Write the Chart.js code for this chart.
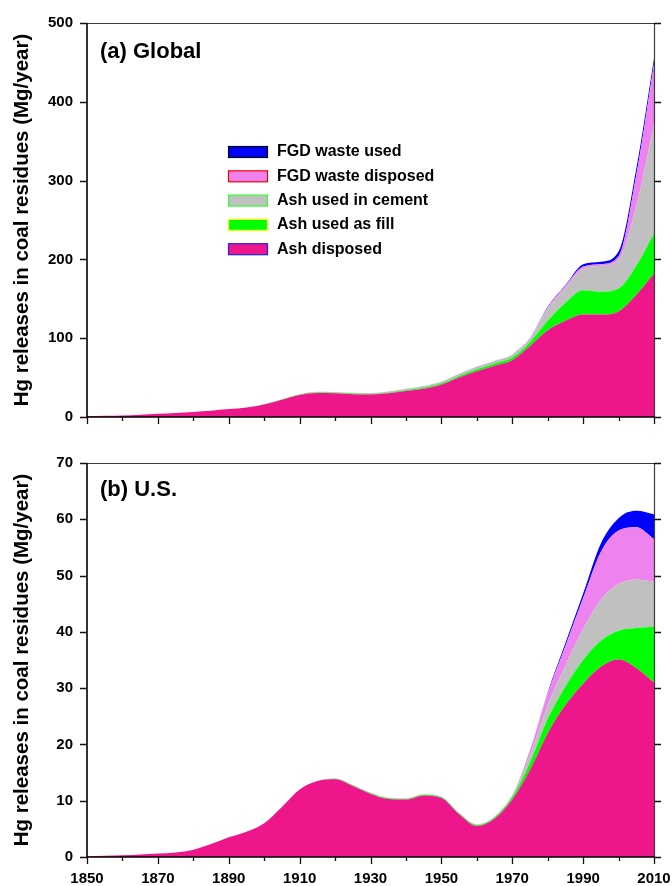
<!DOCTYPE html>
<html>
<head>
<meta charset="utf-8">
<title>Hg releases in coal residues</title>
<script src="https://cdn.jsdelivr.net/npm/chart.js@4/dist/chart.umd.min.js"></script>
<style>
    body { margin: 0; background: #fff; }
    canvas { position: absolute; left: 0; }
    #chart_global { top: 0; }
    #chart_us { top: 440px; }
</style>
</head>
<body>
<canvas id="chart_global" width="672" height="440"></canvas>
<canvas id="chart_us" width="672" height="446"></canvas>
<script>
// years sampled every 5 years
var aYears = [1850, 1855, 1860, 1865, 1870, 1875, 1880, 1885, 1890, 1895, 1900,
    1905, 1910, 1915, 1920, 1925, 1930, 1935, 1940, 1945, 1950,
    1955, 1960, 1965, 1970, 1975, 1980, 1985, 1990, 1995, 2000, 2005, 2010];

var aSeriesNames = ['Ash disposed', 'Ash used as fill', 'Ash used in cement', 'FGD waste disposed', 'FGD waste used'];

// (a) Global, Mg/year
var aGlobalAshDisposed = [1, 1.5, 2, 3, 4, 5, 6.5, 8, 10, 12, 16,
    22, 28, 30.5, 30, 29, 28.5, 30, 33, 36, 41,
    50, 58, 65, 72, 90, 110, 122, 130, 130, 134, 155, 182];
var aGlobalAshFill = [0, 0, 0, 0, 0, 0, 0, 0, 0, 0, 0.2,
    0.3, 0.5, 0.6, 0.7, 0.7, 0.8, 0.9, 1, 1.2, 1.5,
    2, 2.5, 3, 3.5, 5, 12, 23, 31, 29, 29, 37, 51];
var aGlobalAshCement = [0, 0, 0, 0, 0, 0, 0, 0, 0, 0, 0.2,
    0.3, 0.5, 0.8, 1, 1, 1.2, 1.5, 1.8, 2, 2.5,
    3, 3.5, 3.5, 3.5, 5, 15, 19, 27, 33, 37, 76, 138];
var aGlobalFgdDisposed = [0, 0, 0, 0, 0, 0, 0, 0, 0, 0, 0,
    0, 0, 0, 0, 0, 0, 0, 0, 0, 0,
    0, 0, 0, 0.3, 0.5, 2, 2.5, 3, 2, 4, 39, 77];
var aGlobalFgdUsed = [0, 0, 0, 0, 0, 0, 0, 0, 0, 0, 0,
    0, 0, 0, 0, 0, 0, 0, 0, 0, 0,
    0, 0, 0, 0, 0.2, 1, 1, 3, 3, 6, 8, 7];

// (b) U.S., Mg/year
var aUsAshDisposed = [0.1, 0.2, 0.3, 0.45, 0.6, 0.8, 1.3, 2.3, 3.5, 4.5, 6,
    8.9, 12, 13.5, 13.8, 12.6, 11.2, 10.3, 10.2, 10.9, 10.5,
    7.6, 5.5, 6.8, 10.2, 15.5, 22, 27, 30.8, 33.8, 35.1, 33.6, 31];
var aUsAshFill = [0, 0, 0, 0, 0, 0, 0, 0, 0, 0, 0,
    0, 0, 0, 0.1, 0.12, 0.12, 0.12, 0.12, 0.12, 0.12,
    0.12, 0.15, 0.2, 0.4, 1.3, 2.5, 3.3, 4.2, 4.6, 5.1, 7.1, 9.9];
var aUsAshCement = [0, 0, 0, 0, 0, 0, 0, 0, 0, 0, 0,
    0, 0, 0, 0.1, 0.12, 0.12, 0.12, 0.12, 0.12, 0.12,
    0.12, 0.15, 0.2, 0.4, 1.3, 2.5, 3.7, 5.5, 7.3, 8.3, 8.6, 8];
var aUsFgdDisposed = [0, 0, 0, 0, 0, 0, 0, 0, 0, 0, 0,
    0, 0, 0, 0, 0, 0, 0, 0, 0, 0,
    0, 0, 0, 0, 0.8, 2, 3.5, 5.5, 8.5, 9.5, 9.3, 7.6];
var aUsFgdUsed = [0, 0, 0, 0, 0, 0, 0, 0, 0, 0, 0,
    0, 0, 0, 0, 0, 0, 0, 0, 0, 0,
    0, 0, 0, 0, 0.05, 0.2, 0.5, 0.8, 1.5, 2.2, 2.9, 4.4];

// axis ticks
var aYearTicks = [1850, 1860, 1870, 1880, 1890, 1900, 1910, 1920, 1930,
    1940, 1950, 1960, 1970, 1980, 1990, 2000, 2010];
var aYearLabels = [1850, 1870, 1890, 1910, 1930, 1950, 1970, 1990, 2010];
var aGlobalTicks = [0, 100, 200, 300, 400, 500];
var aUsTicks = [0, 10, 20, 30, 40, 50, 60, 70];

// styles
var aFills = ['#ED168B', '#00FF00', '#C0C0C0', '#EE82EE', '#0000FF'];
var aLegendEdges = ['#2020FF', '#FFFF00', '#33FF33', '#FF0000', '#000000'];
var sFont = '"Liberation Sans", Arial, sans-serif';

function makeDatasets(aSeries) {
    return aSeries.map(function (aValues, i) {
        return {
            label: aSeriesNames[i],
            data: aValues.map(function (v, j) { return {x: aYears[j], y: v}; }),
            backgroundColor: aFills[i],
            borderWidth: 0,
            pointRadius: 0,
            fill: i === 0 ? 'origin' : '-1',
            cubicInterpolationMode: 'monotone',
            legendEdge: aLegendEdges[i]
        };
    });
}

var oAxesPlugin = {
    id: 'hgAxes',
    afterDraw: function (oChart) {
        var o = oChart.options.plugins.hgAxes;
        var ctx = oChart.ctx;
        var a = oChart.chartArea;
        var sx = oChart.scales.x, sy = oChart.scales.y;
        ctx.save();

        // top and right frame
        ctx.strokeStyle = '#3c3c3c';
        ctx.lineWidth = 1.2;
        ctx.beginPath();
        ctx.moveTo(a.left, a.top + 0.5);
        ctx.lineTo(a.right + 0.5, a.top + 0.5);
        ctx.lineTo(a.right + 0.5, a.bottom);
        ctx.stroke();

        // left and bottom axes
        ctx.strokeStyle = '#000';
        ctx.lineWidth = 1.6;
        ctx.beginPath();
        ctx.moveTo(a.left, a.top);
        ctx.lineTo(a.left, a.bottom);
        ctx.lineTo(a.right + 1, a.bottom);
        ctx.stroke();

        ctx.lineWidth = 1.3;
        ctx.strokeStyle = '#111';
        o.yTicks.forEach(function (v) {
            var py = Math.round(sy.getPixelForValue(v)) + 0.5;
            ctx.beginPath();
            ctx.moveTo(a.left - 7, py);
            ctx.lineTo(a.left, py);
            ctx.moveTo(a.right, py);
            ctx.lineTo(a.right + 7, py);
            ctx.stroke();
        });
        aYearTicks.forEach(function (yr) {
            var px = Math.round(sx.getPixelForValue(yr)) + 0.5;
            var len = aYearLabels.indexOf(yr) >= 0 ? 7 : 4;
            ctx.beginPath();
            ctx.moveTo(px, a.bottom);
            ctx.lineTo(px, a.bottom + len);
            ctx.stroke();
        });

        // panel label
        ctx.fillStyle = '#000';
        ctx.font = 'bold 22px ' + sFont;
        ctx.textBaseline = 'middle';
        ctx.textAlign = 'left';
        ctx.fillText(o.label, a.left + 13, a.top + o.labelDy);

        // legend, top entry first
        if (o.legend) {
            ctx.font = 'bold 16px ' + sFont;
            var aSets = oChart.data.datasets.slice().reverse();
            aSets.forEach(function (ds, i) {
                var cy = 152 + i * 24.3;
                ctx.fillStyle = ds.backgroundColor;
                ctx.fillRect(228, cy - 5.5, 40, 11);
                ctx.strokeStyle = ds.legendEdge;
                ctx.lineWidth = 1.2;
                ctx.strokeRect(228.5, cy - 5.5, 39, 11);
                ctx.fillStyle = '#000';
                ctx.fillText(ds.label, 277, cy);
            });
        }
        ctx.restore();
    }
};

function makeChart(sId, aSeries, oOpts) {
    return new Chart(document.getElementById(sId), {
        type: 'line',
        data: {datasets: makeDatasets(aSeries)},
        plugins: [oAxesPlugin],
        options: {
            responsive: false,
            animation: false,
            layout: {padding: {top: oOpts.padTop, right: 18, left: 0, bottom: 0}},
            plugins: {
                legend: {display: false},
                tooltip: {enabled: false},
                hgAxes: {label: oOpts.label, labelDy: oOpts.labelDy, legend: oOpts.legend, yTicks: oOpts.yTicks}
            },
            scales: {
                x: {
                    type: 'linear',
                    min: 1850,
                    max: 2010,
                    grid: {display: false, drawTicks: false},
                    border: {display: false},
                    afterBuildTicks: function (s) {
                        s.ticks = aYearLabels.map(function (v) { return {value: v}; });
                    },
                    afterFit: function (s) {
                        s.height = oOpts.xHeight;
                        s.paddingLeft = 0;
                        s.paddingRight = 0;
                    },
                    ticks: {
                        display: oOpts.showYears,
                        padding: 13,
                        maxRotation: 0,
                        autoSkip: false,
                        color: '#000',
                        font: {family: sFont, size: 15, weight: 'bold'},
                        callback: function (v) { return String(v); }
                    }
                },
                y: {
                    stacked: true,
                    min: 0,
                    max: oOpts.yMax,
                    grid: {display: false, drawTicks: false},
                    border: {display: false},
                    afterBuildTicks: function (s) {
                        s.ticks = oOpts.yTicks.map(function (v) { return {value: v}; });
                    },
                    afterFit: function (s) {
                        s.width = 87;
                    },
                    ticks: {
                        padding: 14,
                        color: '#000',
                        font: {family: sFont, size: 15, weight: 'bold'}
                    },
                    title: {
                        display: true,
                        text: 'Hg releases in coal residues (Mg/year)',
                        color: '#000',
                        font: {family: sFont, size: 20.5, weight: 'bold'},
                        padding: {top: 10, bottom: 0}
                    }
                }
            }
        }
    });
}

makeChart('chart_global',
    [aGlobalAshDisposed, aGlobalAshFill, aGlobalAshCement, aGlobalFgdDisposed, aGlobalFgdUsed],
    {label: '(a) Global', labelDy: 29, legend: true, yTicks: aGlobalTicks, yMax: 500,
        padTop: 20, xHeight: 14, showYears: false});

makeChart('chart_us',
    [aUsAshDisposed, aUsAshFill, aUsAshCement, aUsFgdDisposed, aUsFgdUsed],
    {label: '(b) U.S.', labelDy: 27, legend: false, yTicks: aUsTicks, yMax: 70,
        padTop: 10, xHeight: 29, showYears: true});
</script>
</body>
</html>
